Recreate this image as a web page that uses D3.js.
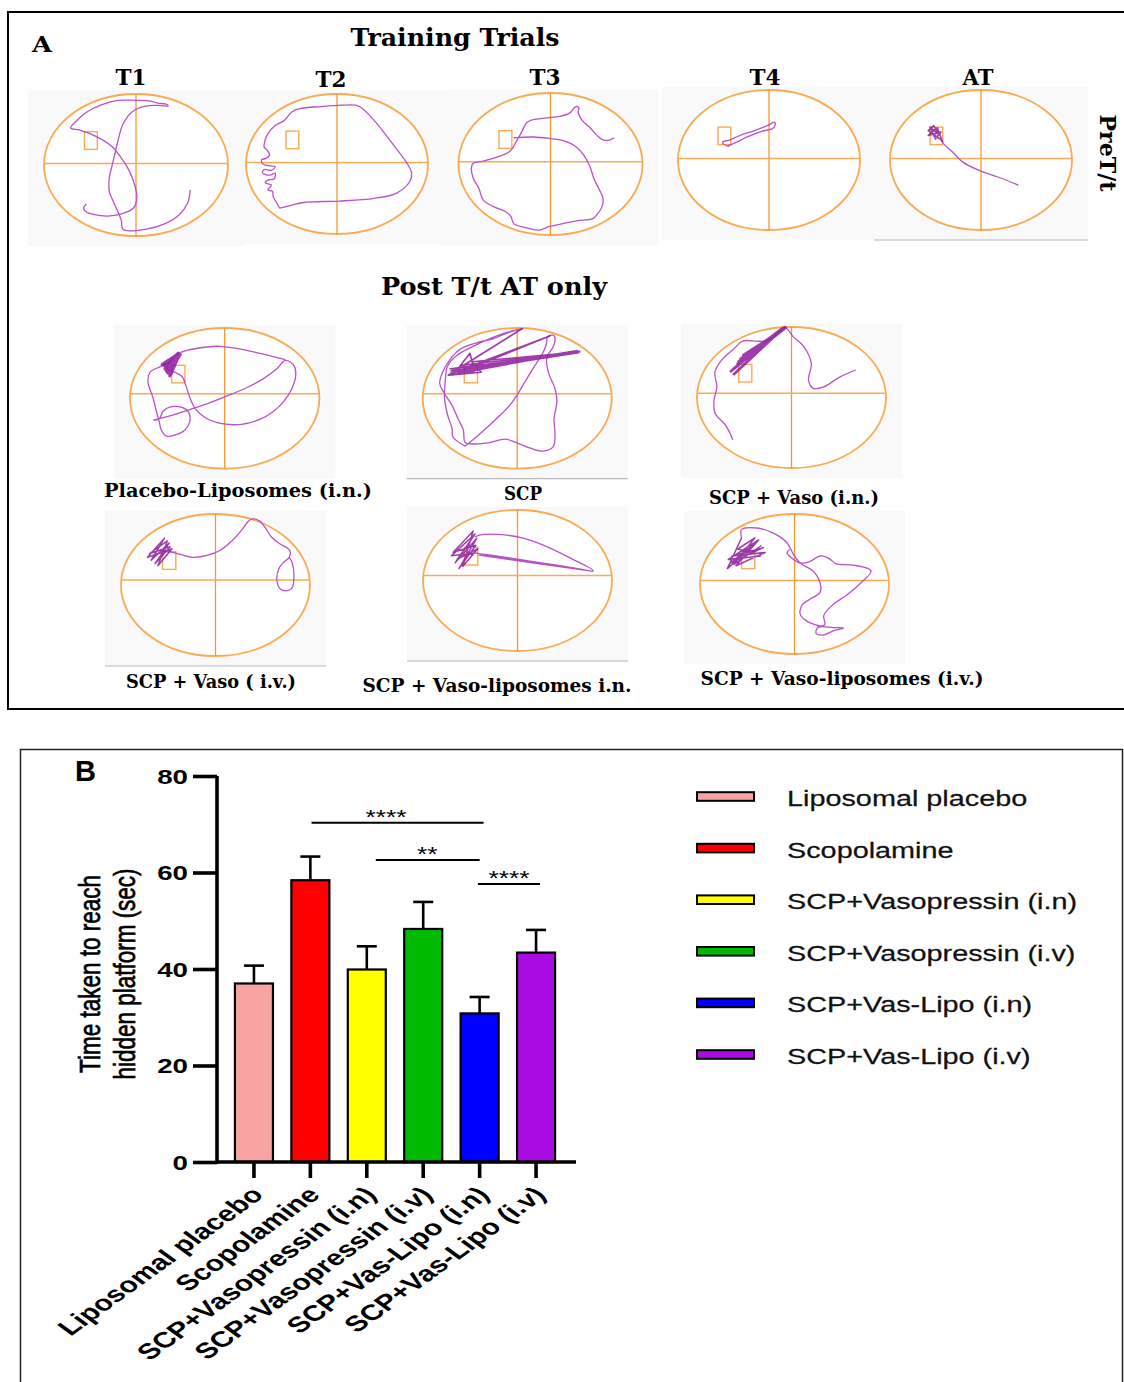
<!DOCTYPE html>
<html>
<head>
<meta charset="utf-8">
<script src="https://cdn.jsdelivr.net/npm/d3@7"></script>
<style>
  body { margin: 0; background: #fff; }
  svg { display: block; }
</style>
</head>
<body>
<svg id="fig" width="1124" height="1382"></svg>
<script>
// ---------------------------------------------------------------
// Panel A – Morris water maze swim tracks.
// Points are pool-normalised: u (left -1 .. right 1), v (top -1 .. bottom 1).
// ---------------------------------------------------------------
const trialTitles = ["T1", "T2", "T3", "T4", "AT"];
const postLabels = [
  "Placebo-Liposomes  (i.n.)", "SCP", "SCP + Vaso (i.n.)",
  "SCP + Vaso ( i.v.)", "SCP + Vaso-liposomes i.n.", "SCP + Vaso-liposomes (i.v.)"
];
const platformBox = [-0.56, -0.47, -0.42, -0.22]; // u0, v0, u1, v1

const trackT1 = [[0.59,0.35],[0.56,0.54],[0.47,0.70],[0.31,0.83],[0.12,0.90],[-0.14,0.91],[-0.16,0.78],[-0.23,0.56],[-0.29,0.37],[-0.29,0.18],[-0.25,-0.04],[-0.20,-0.32],[-0.14,-0.58],[-0.04,-0.75],[0.10,-0.83],[0.25,-0.84],[0.35,-0.83],[0.32,-0.86],[0.24,-0.87],[0.16,-0.90],[0.00,-0.91],[-0.20,-0.91],[-0.37,-0.85],[-0.53,-0.75],[-0.64,-0.63],[-0.71,-0.52],[-0.61,-0.49],[-0.43,-0.40],[-0.27,-0.27],[-0.16,-0.10],[-0.07,0.09],[-0.01,0.30],[0.01,0.47],[-0.03,0.61],[-0.16,0.69],[-0.31,0.72],[-0.45,0.70],[-0.55,0.65],[-0.57,0.61],[-0.54,0.55]];

const trackT2 = [[-0.63,0.63],[-0.56,0.61],[-0.37,0.55],[0.02,0.53],[0.41,0.49],[0.65,0.42],[0.80,0.25],[0.82,0.13],[0.77,-0.01],[0.61,-0.29],[0.41,-0.62],[0.26,-0.81],[0.20,-0.84],[0.06,-0.84],[-0.17,-0.82],[-0.41,-0.79],[-0.50,-0.74],[-0.58,-0.62],[-0.68,-0.55],[-0.76,-0.43],[-0.79,-0.34],[-0.80,-0.24],[-0.77,-0.20],[-0.74,-0.13],[-0.78,-0.08],[-0.83,-0.06],[-0.82,-0.01],[-0.78,0.02],[-0.68,0.04],[-0.72,0.09],[-0.80,0.08],[-0.82,0.13],[-0.74,0.16],[-0.68,0.13],[-0.69,0.21],[-0.76,0.23],[-0.79,0.27],[-0.72,0.30],[-0.76,0.37],[-0.71,0.39],[-0.70,0.47],[-0.66,0.56],[-0.63,0.63]];

const trackT3 = [[-0.40,-0.37],[-0.19,-0.38],[-0.01,-0.36],[0.14,-0.33],[0.27,-0.25],[0.36,-0.13],[0.43,0.04],[0.47,0.20],[0.53,0.36],[0.57,0.48],[0.56,0.60],[0.50,0.72],[0.46,0.77],[0.28,0.80],[0.10,0.85],[-0.01,0.88],[-0.13,0.93],[-0.26,0.90],[-0.40,0.84],[-0.43,0.74],[-0.49,0.67],[-0.62,0.60],[-0.73,0.51],[-0.78,0.34],[-0.84,0.20],[-0.86,0.06],[-0.84,-0.01],[-0.73,-0.04],[-0.55,-0.11],[-0.44,-0.18],[-0.37,-0.32],[-0.31,-0.46],[-0.26,-0.58],[-0.20,-0.62],[-0.04,-0.65],[0.10,-0.67],[0.21,-0.72],[0.25,-0.78],[0.28,-0.81],[0.31,-0.79],[0.30,-0.74],[0.34,-0.62],[0.43,-0.51],[0.50,-0.41],[0.57,-0.34],[0.65,-0.34],[0.69,-0.37]];

const trackT4 = [[-0.44,-0.19],[-0.50,-0.23],[-0.51,-0.26],[-0.44,-0.28],[-0.32,-0.35],[-0.16,-0.42],[-0.02,-0.49],[0.06,-0.54],[0.07,-0.51],[0.04,-0.45],[-0.08,-0.41],[-0.24,-0.33],[-0.38,-0.24],[-0.46,-0.20],[-0.41,-0.22]];

const trackAT = [[0.41,0.36],[0.20,0.25],[0.00,0.16],[-0.20,0.03],[-0.31,-0.11],[-0.41,-0.23],[-0.45,-0.30]];
const clusterAT = [[-0.45,-0.30],[-0.58,-0.42],[-0.52,-0.49],[-0.46,-0.36],[-0.56,-0.47],[-0.50,-0.30],[-0.44,-0.40],[-0.58,-0.35],[-0.48,-0.46],[-0.42,-0.25]];

const trackPlacebo = [[-0.58,-0.52],[-0.68,-0.45],[-0.79,-0.37],[-0.81,-0.23],[-0.76,-0.02],[-0.72,0.19],[-0.69,0.34],[-0.67,0.45],[-0.61,0.54],[-0.52,0.52],[-0.42,0.45],[-0.37,0.34],[-0.38,0.20],[-0.45,0.13],[-0.56,0.12],[-0.65,0.18],[-0.69,0.29],[-0.75,0.31],[-0.58,0.25],[-0.37,0.16],[-0.19,0.08],[0.02,-0.03],[0.23,-0.15],[0.41,-0.28],[0.55,-0.42],[0.64,-0.54],[0.73,-0.47],[0.75,-0.33],[0.71,-0.14],[0.62,0.05],[0.51,0.19],[0.37,0.30],[0.18,0.37],[-0.03,0.36],[-0.20,0.28],[-0.31,0.15],[-0.37,-0.02],[-0.41,-0.18],[-0.45,-0.31],[-0.54,-0.38],[-0.61,-0.42],[-0.52,-0.61],[-0.40,-0.68],[-0.19,-0.73],[-0.05,-0.74],[0.13,-0.71],[0.37,-0.64],[0.64,-0.55]];
const clusterPlacebo = [[-0.65,-0.45],[-0.49,-0.64],[-0.62,-0.40],[-0.47,-0.62],[-0.60,-0.36],[-0.50,-0.58],[-0.58,-0.32],[-0.52,-0.55],[-0.66,-0.48],[-0.48,-0.60],[-0.63,-0.42],[-0.50,-0.56],[-0.57,-0.34],[-0.64,-0.50],[-0.51,-0.61],[-0.61,-0.38],[-0.55,-0.52],[-0.62,-0.46],[-0.53,-0.47],[-0.59,-0.40]];

const trackSCP = [[-0.55,0.68],[-0.39,0.50],[-0.22,0.29],[-0.08,0.10],[0.00,-0.05],[0.08,-0.23],[0.18,-0.45],[0.27,-0.64],[0.31,-0.78],[0.32,-0.87],[0.38,-0.90],[0.40,-0.86],[0.38,-0.73],[0.32,-0.61],[0.31,-0.52],[0.34,-0.33],[0.40,-0.14],[0.42,0.05],[0.39,0.29],[0.40,0.53],[0.38,0.69],[0.27,0.75],[0.14,0.71],[-0.01,0.63],[-0.13,0.58],[-0.29,0.63],[-0.45,0.65],[-0.55,0.63],[-0.57,0.45],[-0.62,0.31],[-0.69,0.10],[-0.78,-0.09],[-0.82,-0.21],[-0.79,-0.37],[-0.69,-0.59],[-0.59,-0.71],[-0.43,-0.79],[-0.25,-0.85],[-0.08,-0.94],[0.06,-0.99],[-0.08,-0.95],[-0.25,-0.87],[-0.45,-0.75],[-0.64,-0.61],[-0.74,-0.45],[-0.76,-0.26],[-0.77,-0.02],[-0.74,0.22],[-0.69,0.43],[-0.68,0.55],[-0.55,0.68]];
const bundleSCP = [[-0.73,-0.33],[0.66,-0.67],[-0.68,-0.37],[0.65,-0.65],[-0.71,-0.42],[-0.43,-0.40],[-0.60,-0.47],[0.66,-0.66],[-0.48,-0.52],[-0.38,-0.37],[-0.73,-0.33],[0.05,-0.99],[-0.71,-0.35],[0.35,-0.89],[-0.68,-0.33],[-0.50,-0.64],[-0.45,-0.37],[-0.70,-0.39],[0.64,-0.68]];

const trackVasoIN = [[0.68,-0.39],[0.51,-0.29],[0.34,-0.15],[0.23,-0.13],[0.18,-0.25],[0.21,-0.48],[0.13,-0.72],[0.02,-0.86],[-0.07,-0.99],[-0.20,-0.85],[-0.28,-0.80],[-0.37,-0.80],[-0.52,-0.80],[-0.61,-0.69],[-0.74,-0.53],[-0.81,-0.36],[-0.79,-0.15],[-0.82,0.04],[-0.81,0.22],[-0.70,0.39],[-0.65,0.51],[-0.62,0.60]];
const bundleVasoIN = [[-0.65,-0.36],[-0.08,-0.99],[-0.61,-0.33],[-0.10,-0.98],[-0.56,-0.51],[-0.07,-1.00],[-0.54,-0.55],[-0.09,-0.96],[-0.51,-0.60],[-0.06,-0.99],[-0.58,-0.45],[-0.11,-0.95],[-0.53,-0.50],[-0.08,-0.97],[-0.62,-0.40],[-0.09,-0.98],[-0.57,-0.48],[-0.12,-0.94],[-0.49,-0.58]];

const trackVasoIV = [[0.78,-0.39],[0.81,-0.32],[0.83,-0.11],[0.81,0.04],[0.76,0.08],[0.69,0.06],[0.65,-0.06],[0.67,-0.23],[0.72,-0.32],[0.78,-0.39],[0.79,-0.47],[0.76,-0.52],[0.68,-0.58],[0.59,-0.68],[0.52,-0.82],[0.47,-0.90],[0.39,-0.93],[0.35,-0.90],[0.28,-0.78],[0.18,-0.63],[0.05,-0.49],[-0.08,-0.42],[-0.24,-0.39],[-0.37,-0.43],[-0.45,-0.46],[-0.54,-0.47]];
const clusterVasoIV = [[-0.54,-0.47],[-0.72,-0.39],[-0.54,-0.66],[-0.68,-0.35],[-0.49,-0.59],[-0.64,-0.30],[-0.48,-0.54],[-0.70,-0.44],[-0.51,-0.62],[-0.61,-0.27],[-0.46,-0.51],[-0.66,-0.42],[-0.55,-0.47]];

const trackLipoIN = [[-0.45,-0.62],[-0.38,-0.65],[-0.16,-0.65],[0.06,-0.60],[0.31,-0.48],[0.57,-0.31],[0.80,-0.14],[0.38,-0.22],[0.02,-0.29],[-0.45,-0.39],[0.02,-0.30],[0.80,-0.13],[-0.41,-0.36]];
const clusterLipoIN = [[-0.45,-0.39],[-0.70,-0.35],[-0.45,-0.66],[-0.66,-0.25],[-0.43,-0.60],[-0.62,-0.17],[-0.44,-0.50],[-0.68,-0.40],[-0.47,-0.70],[-0.58,-0.20],[-0.42,-0.45],[-0.64,-0.30],[-0.50,-0.55]];

const trackLipoIV = [[-0.56,-0.66],[-0.56,-0.78],[-0.40,-0.80],[-0.23,-0.73],[-0.08,-0.59],[-0.01,-0.42],[0.07,-0.29],[0.20,-0.18],[0.27,-0.02],[0.27,0.12],[0.16,0.22],[0.08,0.30],[0.06,0.43],[0.13,0.53],[0.27,0.60],[0.39,0.62],[0.52,0.63],[0.41,0.67],[0.30,0.73],[0.23,0.71],[0.24,0.63],[0.32,0.58],[0.31,0.45],[0.41,0.29],[0.55,0.16],[0.69,0.00],[0.81,-0.19],[0.62,-0.27],[0.44,-0.29],[0.36,-0.37],[0.27,-0.40],[0.16,-0.32],[0.06,-0.30],[-0.03,-0.37],[-0.08,-0.45],[-0.05,-0.49]];
const clusterLipoIV = [[-0.56,-0.66],[-0.71,-0.22],[-0.40,-0.60],[-0.68,-0.30],[-0.33,-0.52],[-0.66,-0.40],[-0.31,-0.45],[-0.62,-0.26],[-0.38,-0.63],[-0.70,-0.35],[-0.36,-0.40],[-0.60,-0.50],[-0.42,-0.66],[-0.64,-0.28],[-0.35,-0.55]];

// ---------------------------------------------------------------
// Panel B – escape latency (mean ± SEM)
// ---------------------------------------------------------------
const groups = ["Liposomal placebo", "Scopolamine", "SCP+Vasopressin (i.n)", "SCP+Vasopressin (i.v)", "SCP+Vas-Lipo (i.n)", "SCP+Vas-Lipo (i.v)"];
const meanLatency = [37.0, 58.4, 39.9, 48.3, 30.8, 43.4];
const semLatency = [3.7, 4.9, 4.8, 5.6, 3.4, 4.7];
const groupColors = ["#f9a2a2", "#fe0000", "#ffff00", "#00ba00", "#0000fe", "#a80ce2"];
const yTicks = [0, 20, 40, 60, 80];
const yTitle = ["Time taken to reach", "hidden platform (sec)"];
// significance brackets: start / end in group-index units, height in seconds
const sigFrom = [1.02, 2.16, 3.97];
const sigTo = [4.07, 4.00, 5.07];
const sigLevel = [70.3, 62.6, 57.6];
const sigStarAt = [2.34, 3.07, 4.52];
const sigStars = ["****", "**", "****"];

// ---------------------------------------------------------------
const svg = d3.select("#fig");
const serif = "'DejaVu Serif', 'Liberation Serif', serif";
const sans = "'Liberation Sans', Arial, Helvetica, sans-serif";
const trackColor = "#b752c9";
const denseColor = "#8d1a9e";
const poolOrange = "#f8aa55";
const crossOrange = "#f7982f";

// ---------------- Panel A ----------------
svg.append("rect").attr("x", 8).attr("y", 12).attr("width", 1130).attr("height", 697)
  .attr("fill", "none").attr("stroke", "#000").attr("stroke-width", 2);

function serifText(txt, x, y, size, len, extra) {
  const t = svg.append("text").attr("x", x).attr("y", y)
    .attr("text-anchor", "middle").attr("font-family", serif)
    .attr("font-weight", "bold").attr("font-size", size).attr("fill", "#000").text(txt);
  if (len) t.attr("textLength", len).attr("lengthAdjust", "spacingAndGlyphs");
  if (extra) t.attr("transform", extra);
  return t;
}

serifText("A", 42, 52, 23, 20);
serifText("Training Trials", 455, 46, 24, 209);
serifText("Post T/t AT only", 494, 295, 24, 226);
svg.append("text").attr("transform", "translate(1100,153) rotate(90)")
  .attr("text-anchor", "middle").attr("font-family", serif).attr("font-weight", "bold")
  .attr("font-size", 22).attr("textLength", 77).attr("lengthAdjust", "spacingAndGlyphs")
  .text("PreT/t");

const trialTitlePos = [[131, 85], [331, 87], [545, 85], [765, 85], [978, 85]];
trialTitles.forEach((t, i) => serifText(t, trialTitlePos[i][0], trialTitlePos[i][1], 22, 31));

const postLabelPos = [[238, 497, 268], [523, 500, 38], [794, 504, 170], [211, 688, 170], [497, 692, 269], [842, 685, 283]];
postLabels.forEach((t, i) => serifText(t, postLabelPos[i][0], postLabelPos[i][1], 19, postLabelPos[i][2]));

const pools = [
  { track: trackT1, dense: null, cx: 136, cy: 165, rx: 92, ry: 71, h: -0.02, rule: false },
  { track: trackT2, dense: null, cx: 337, cy: 164, rx: 91, ry: 70, h: -0.02, rule: false },
  { track: trackT3, dense: null, cx: 550.5, cy: 164, rx: 92, ry: 71, h: -0.03, rule: false },
  { track: trackT4, dense: null, cx: 769, cy: 160, rx: 91, ry: 70, h: -0.02, rule: false },
  { track: trackAT, dense: clusterAT, denseW: 1.6, cx: 981, cy: 160, rx: 91, ry: 70, h: -0.02, rule: true },
  { track: trackPlacebo, dense: clusterPlacebo, denseW: 3.2, cx: 224.7, cy: 398.3, rx: 94.7, ry: 70.3, h: -0.066, rule: false },
  { track: trackSCP, dense: bundleSCP, denseW: 1.6, cx: 517.2, cy: 398.3, rx: 94.5, ry: 70.3, h: -0.066, rule: true },
  { track: trackVasoIN, dense: bundleVasoIN, denseW: 2.6, cx: 791.5, cy: 397.5, rx: 94.5, ry: 70.5, h: -0.06, rule: false },
  { track: trackVasoIV, dense: clusterVasoIV, denseW: 1.5, cx: 215.5, cy: 585, rx: 94.5, ry: 71, h: -0.07, rule: true },
  { track: trackLipoIN, dense: clusterLipoIN, denseW: 1.5, cx: 517.5, cy: 580.5, rx: 94.5, ry: 70.5, h: -0.07, rule: true },
  { track: trackLipoIV, dense: clusterLipoIV, denseW: 1.5, cx: 794.5, cy: 584, rx: 94.5, ry: 70, h: -0.05, rule: false }
];

pools.forEach(p => {
  const sx = d3.scaleLinear().domain([-1, 1]).range([p.cx - p.rx, p.cx + p.rx]);
  const sy = d3.scaleLinear().domain([-1, 1]).range([p.cy - p.ry, p.cy + p.ry]);
  const g = svg.append("g");
  // faint photo backdrop behind each pool
  g.append("rect").attr("x", sx(-1) - 16).attr("y", sy(-1) - 3)
    .attr("width", sx(1) - sx(-1) + 32).attr("height", sy(1) - sy(-1) + 13)
    .attr("fill", "#f9f9f9");
  if (p.rule) {
    g.append("line").attr("x1", sx(-1) - 16).attr("x2", sx(1) + 16)
      .attr("y1", sy(1) + 10).attr("y2", sy(1) + 10)
      .attr("stroke", "#b8b8b8").attr("stroke-width", 1.2);
  }
  g.append("ellipse").attr("cx", sx(0)).attr("cy", sy(0))
    .attr("rx", sx(1) - sx(0)).attr("ry", sy(1) - sy(0))
    .attr("fill", "#fff").attr("stroke", poolOrange).attr("stroke-width", 1.8);
  g.append("line").attr("x1", sx(0)).attr("x2", sx(0)).attr("y1", sy(-1)).attr("y2", sy(1))
    .attr("stroke", crossOrange).attr("stroke-width", 1.3);
  g.append("line").attr("x1", sx(-1)).attr("x2", sx(1)).attr("y1", sy(p.h)).attr("y2", sy(p.h))
    .attr("stroke", poolOrange).attr("stroke-width", 1.5);
  g.append("rect").attr("x", sx(platformBox[0])).attr("y", sy(platformBox[1]))
    .attr("width", sx(platformBox[2]) - sx(platformBox[0]))
    .attr("height", sy(platformBox[3]) - sy(platformBox[1]))
    .attr("fill", "none").attr("stroke", poolOrange).attr("stroke-width", 1.4);

  const smooth = d3.line().x(d => sx(d[0])).y(d => sy(d[1])).curve(d3.curveCatmullRom.alpha(0.5));
  const straight = d3.line().x(d => sx(d[0])).y(d => sy(d[1]));
  g.append("path").attr("d", smooth(p.track)).attr("fill", "none")
    .attr("stroke", trackColor).attr("stroke-width", 1.3).attr("stroke-linejoin", "round");
  if (p.dense) {
    g.append("path").attr("d", straight(p.dense)).attr("fill", "none")
      .attr("stroke", denseColor).attr("stroke-width", p.denseW).attr("stroke-opacity", 0.85)
      .attr("stroke-linejoin", "round");
  }
});

// ---------------- Panel B ----------------
svg.append("rect").attr("x", 20.5).attr("y", 749.5).attr("width", 1102).attr("height", 700)
  .attr("fill", "none").attr("stroke", "#222").attr("stroke-width", 1.5);

svg.append("text").attr("x", 75).attr("y", 781).attr("font-family", sans)
  .attr("font-weight", "bold").attr("font-size", 29).text("B");

const x = d3.scaleBand().domain(groups).range([218, 572]).paddingInner(0.326).paddingOuter(0.3);
const y = d3.scaleLinear().domain([0, 80]).range([1162, 776]);
const centerOf = d3.scaleLinear().domain([0, groups.length - 1])
  .range([x(groups[0]) + x.bandwidth() / 2, x(groups[groups.length - 1]) + x.bandwidth() / 2]);
const stretch = 1.32;

// bars
svg.append("g").selectAll("rect").data(groups).join("rect")
  .attr("x", d => x(d)).attr("width", x.bandwidth())
  .attr("y", (d, i) => y(meanLatency[i]))
  .attr("height", (d, i) => y(0) - y(meanLatency[i]))
  .attr("fill", (d, i) => groupColors[i]).attr("stroke", "#000").attr("stroke-width", 2.2);

// error bars (upper SEM)
const eb = svg.append("g").attr("stroke", "#000").attr("stroke-width", 2.6);
groups.forEach((g, i) => {
  const cx = x(g) + x.bandwidth() / 2;
  eb.append("line").attr("x1", cx).attr("x2", cx)
    .attr("y1", y(meanLatency[i])).attr("y2", y(meanLatency[i] + semLatency[i]));
  eb.append("line").attr("x1", cx - 10).attr("x2", cx + 10)
    .attr("y1", y(meanLatency[i] + semLatency[i])).attr("y2", y(meanLatency[i] + semLatency[i]));
});

// y axis
const yAxis = svg.append("g").attr("transform", "translate(217,0)")
  .call(d3.axisLeft(y).tickValues(yTicks).tickSize(24).tickSizeOuter(0).tickFormat(""));
yAxis.selectAll("path, line").attr("stroke", "#000").attr("stroke-width", 3.6);
yAxis.select(".domain").attr("d", `M0,${y(0) + 1.8}V${y(80)}`);
yTicks.forEach(v => {
  svg.append("text").attr("transform", `translate(188,${y(v) + 7.5}) scale(${stretch},1)`)
    .attr("text-anchor", "end").attr("font-family", sans).attr("font-weight", "bold")
    .attr("font-size", 21).text(v);
});

// x axis
const xAxis = svg.append("g").attr("transform", `translate(0,${y(0)})`)
  .call(d3.axisBottom(x).tickSize(16).tickSizeOuter(0).tickFormat(""));
xAxis.selectAll("path, line").attr("stroke", "#000").attr("stroke-width", 3.6);
xAxis.select(".domain").attr("d", `M217,0H${x.range()[1] + 4}`);

groups.forEach(g => {
  const cx = x(g) + x.bandwidth() / 2;
  svg.append("text")
    .attr("transform", `translate(${cx + 11},${1196}) scale(1.38,1) rotate(-45)`)
    .attr("text-anchor", "end").attr("font-family", sans).attr("font-weight", "bold")
    .attr("font-size", 22).text(g);
});

// y title
yTitle.forEach((t, i) => {
  svg.append("text").attr("transform", `translate(${90 + 35 * i},974) scale(1.3,1) rotate(-90)`)
    .attr("text-anchor", "middle").attr("dy", "0.35em")
    .attr("font-family", sans).attr("font-size", 22.5)
    .attr("stroke", "#000").attr("stroke-width", 0.55).text(t);
});

// significance brackets
sigFrom.forEach((f, i) => {
  svg.append("line").attr("x1", centerOf(f)).attr("x2", centerOf(sigTo[i]))
    .attr("y1", y(sigLevel[i])).attr("y2", y(sigLevel[i]))
    .attr("stroke", "#000").attr("stroke-width", 2);
  svg.append("text").attr("transform", `translate(${centerOf(sigStarAt[i])},${y(sigLevel[i]) + 1}) scale(${stretch},1)`)
    .attr("text-anchor", "middle").attr("font-family", sans).attr("font-size", 20).text(sigStars[i]);
});

// legend
const legend = svg.append("g");
groups.forEach((g, i) => {
  const ly = 796.5 + i * 51.6;
  legend.append("rect").attr("x", 697).attr("y", ly - 4.3).attr("width", 57).attr("height", 8.6)
    .attr("fill", groupColors[i]).attr("stroke", "#000").attr("stroke-width", 2);
  legend.append("text").attr("transform", `translate(787,${ly + 9.5}) scale(1.31,1)`)
    .attr("font-family", sans).attr("font-size", 22).attr("fill", "#111")
    .attr("stroke", "#111").attr("stroke-width", 0.25).text(g);
});
</script>
</body>
</html>
